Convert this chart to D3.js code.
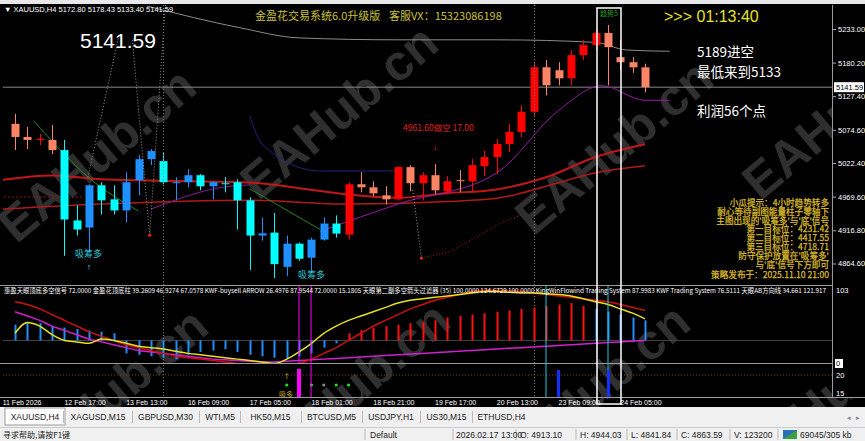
<!DOCTYPE html>
<html>
<head>
<meta charset="utf-8">
<script src="https://cdn.jsdelivr.net/npm/d3@7"></script>
<style>
body { margin: 0; background: #000; overflow: hidden; }
svg { display: block; }
</style>
</head>
<body>
<script>
// XAUUSD H4 bars (index 0 = 12 Feb 01:00)
var opens  = [5084.0,5063.4,5059.4,5058.7,5042.8,4932.2,4921.1,4987.5,4965.4,4948.0,4995.4,5028.6,5025.5,4991.5,4992.3,5003.3,4985.9,4990.7,4992.3,4963.8,4908.5,4913.10,4859.4,4895.8,4873.7,4902.1,4927.4,4910.0,4989.1,4984.3,4971.7,4965.4,5016.0,4990.7,5003.3,4978.0,4995.4,4993.8,5017.5,5031.8,5052.3,5071.3,5102.9,5172.9,5168.2,5155.5,5191.9,5207.7,5226.7,5188.7,5180.8,5172.80];
var highs  = [5099.8,5079.2,5068.1,5082.4,5058.7,4955.9,4989.1,4992.3,4987.5,5008.1,5034.9,5044.4,5039.7,5000.2,5012.8,5004.9,4993.8,5000.2,4997.0,4968.5,4936.9,4944.03,4908.5,4897.4,4905.3,4936.9,4940.1,4992.3,5008.1,4993.8,4985.9,5017.5,5019.1,5008.1,5020.7,5001.7,5011.2,5028.6,5041.3,5060.2,5084.0,5112.8,5180.8,5184.0,5180.8,5199.8,5215.6,5234.6,5239.3,5215.6,5188.7,5178.43];
var lows   = [5042.8,5044.4,5050.8,5036.5,4876.8,4908.5,4881.6,4941.7,4941.7,4929.0,4971.7,5019.1,4989.1,4963.8,4984.3,4979.6,4965.4,4976.4,4918.0,4854.7,4900.5,4841.84,4845.2,4868.9,4849.9,4900.5,4905.3,4902.1,4976.4,4970.1,4957.5,4963.8,4978.0,4963.8,4973.3,4973.3,4976.4,4976.4,5001.7,5004.9,5039.7,5063.4,5095.0,5128.7,5144.5,5144.5,5184.0,5199.8,5144.5,5168.2,5164.0,5133.40];
var closes = [5063.4,5058.7,5060.2,5042.8,4933.8,4918.0,4987.5,4963.8,4948.0,4992.3,5028.6,5041.3,4992.3,4992.3,5003.3,4985.9,4992.3,4989.9,4963.8,4908.5,4912.0,4863.59,4895.8,4872.1,4902.1,4927.4,4911.6,4989.1,4984.3,4974.8,4965.4,5016.0,4990.7,5003.3,4979.6,4993.8,4994.6,5019.1,5031.8,5052.3,5071.3,5102.9,5172.9,5144.5,5155.5,5191.9,5207.7,5226.7,5204.5,5180.8,5172.8,5141.59];
// colour scheme given by the trend filter: u = red / salmon, d = blue / cyan
var trend = ["u","u","u","u","d","d","d","d","d","d","d","d","d","d","d","d","d","d","d","d","d","d","d","d","d","d","d","u","u","u","u","u","u","u","u","u","u","u","u","u","u","u","u","u","u","u","u","u","u","u","u","u"];

// moving averages and bands: [bar index, price]
var maSlow    = [[-1,4996],[3,5003],[7,4997],[11,4995],[19,4992],[23,4983],[27,4973],[31,4968],[35,4975],[39,4981],[43,5000],[47,5032],[51,5052]];
var maMid     = [[-1,4950],[7,4958],[19,4964],[27,4958],[35,4962],[39,4967],[43,4986],[47,5007],[51,5018]];
var maGreen1  = [[1.5,5089],[6,4999],[10,4947]];
var maGreen2  = [[19,4982],[24.7,4918]];
var maPurple  = [[11,4950],[17.4,4986],[19,4988]];
var maPurple2 = [[24.7,4915],[31,4958],[39,5007],[44,5105],[47.5,5144],[51,5121],[53,5121]];
var maNavy    = [[19,5097],[20,5052],[24.7,5010],[31,5010]];
var bandTop   = [[10.7,5269],[18.2,5235],[23,5219],[31,5216],[39,5216],[47,5212],[49.5,5200],[53,5198]];
var zigA      = [[5.9,5000],[8.4,5222]];
var zigB      = [[9.5,5216],[10.9,4909],[12.2,5280]];
var zigC      = [[32.2,4980],[32.9,4873]];
var zigRed    = [[32.9,4873],[35.2,4883],[37.9,4912],[39.3,4928],[41,4941]];
var dotLevel  = [[-1.2,4969],[5.5,4969]];

var priceTicks = [5233.00, 5180.20, 5127.40, 5074.60, 5022.40, 4969.60, 4916.80, 4864.60];
var timeLabels = ["11 Feb 2026","12 Feb 17:00","13 Feb 13:00","16 Feb 09:00","17 Feb 05:00","18 Feb 01:00","18 Feb 21:00","19 Feb 17:00","20 Feb 13:00","23 Feb 09:00","24 Feb 05:00"];
var timeIdx = [-1, 4, 9, 14, 19, 24, 29, 34, 39, 44, 49];

// oscillator sub window (own units, zero line at 30)
var histo     = [52,55,54,50,48,46,44,42,40,12,10,8,6,4,10,14,16,18,14,10,8,6,4,8,12,20,26,40,44,48,50,52,54,56,58,62,64,66,68,70,72,74,76,78,80,82,78,74,70,66,62,58];
var yellowLn  = [40,55,50,38,30,28,26,32,30,26,22,20,18,15,12,10,8,6,4,2,0,-2,4,14,26,40,50,58,64,70,76,82,86,88,90,92,94,96,98,98,97,96,96,95,94,92,88,84,80,74,68,60];
var magentaLn = [70,64,58,50,44,38,32,28,24,20,16,14,12,10,8,6,4,3,2,1,0,0,1,2,3,4,5,6,7,8,9,10,11,12,13,14,15,16,17,18,19,20,21,22,23,24,25,26,27,28,29,30];
var redLn     = [84,80,74,66,58,50,42,36,30,24,20,16,12,8,6,4,2,0,-2,-4,-6,-8,-6,-2,4,12,20,30,40,50,58,66,74,80,86,90,94,98,100,100,99,98,96,94,92,90,88,86,84,80,76,72];
var dotsIdx   = [22, 23, 24, 25, 26, 27];

var tabs = ["XAUUSD,H4","XAGUSD,M15","GBPUSD,M30","WTI,M5","HK50,M15","BTCUSD,M5","USDJPY,H1","US30,M15","ETHUSD,H4"];
var infoLines = ["小瓜提示：4小时趋势转多","耐心等待副图能量柱子零轴下","主图出现的'吸筹多'与'底'信号","第一目标位：4231.42","第二目标位：4417.55","第三目标位：4718.71","防守保护放置在'吸筹多'","与'底'信号下方即可","策略发布于：2025.11.10 21:00"];

var W = 865, H = 441;
var plotL = 3, plotR = 832, mainTop = 5, mainBot = 285, oscTop = 286, oscBot = 363, sub2Top = 363, sub2Bot = 397;
var cjk = "'Noto Sans CJK SC', sans-serif";
var latin = "'Liberation Sans', 'DejaVu Sans', sans-serif";

var svg = d3.select("body").append("svg").attr("width", W).attr("height", H);
svg.append("rect").attr("width", W).attr("height", H).attr("fill", "#000");

var x = d3.scaleLinear().domain([0, 51]).range([15, 645]);
var y = d3.scaleLinear().domain([4864.6, 5233]).range([263.5, 29]);
var yo = d3.scaleLinear().domain([0, 103]).range([362, 288]);

var defs = svg.append("defs");
defs.append("clipPath").attr("id", "mainClip")
    .append("rect").attr("x", plotL).attr("y", mainTop).attr("width", plotR - plotL).attr("height", mainBot - mainTop);
defs.append("clipPath").attr("id", "oscClip")
    .append("rect").attr("x", plotL).attr("y", oscTop).attr("width", plotR - plotL).attr("height", oscBot - oscTop);

// top toolbar remnant
svg.append("rect").attr("x", 0).attr("y", 0).attr("width", W).attr("height", 4).attr("fill", "#e8e8e8");

// watermarks
var wm = svg.append("g");
[[108,168],[350,125],[625,160],[852,125],[120,408],[362,402],[602,404],[846,404]].forEach(function (p) {
    wm.append("text").attr("transform", "translate(" + p[0] + "," + p[1] + ") rotate(-40)")
        .attr("text-anchor", "middle").attr("font-family", latin).attr("font-weight", "bold")
        .attr("font-size", 50).attr("fill", "#2f2f2f").text("EAHub.cn");
});

var main = svg.append("g").attr("clip-path", "url(#mainClip)");

// period separators
[163, 534].forEach(function (sx) {
    svg.append("line").attr("x1", sx + 0.5).attr("x2", sx + 0.5).attr("y1", mainTop).attr("y2", sub2Bot)
        .attr("stroke", "#777").attr("stroke-dasharray", "1,2");
});

// current price line
main.append("line").attr("x1", plotL).attr("x2", plotR).attr("y1", y(5141.59)).attr("y2", y(5141.59))
    .attr("stroke", "#888").attr("stroke-width", 1);

var line = d3.line().x(function (d) { return x(d[0]); }).y(function (d) { return y(d[1]); }).curve(d3.curveMonotoneX);
var straight = d3.line().x(function (d) { return x(d[0]); }).y(function (d) { return y(d[1]); });
function drawLine(data, color, w, dash, gen) {
    main.append("path").attr("d", (gen || line)(data)).attr("fill", "none").attr("stroke", color)
        .attr("stroke-width", w).attr("stroke-dasharray", dash || null);
}
drawLine(dotLevel, "#8a1a1a", 1, "2,2");
drawLine(bandTop, "#8c8c8c", 1);
drawLine(maSlow, "#c01818", 2);
drawLine(maMid, "#b01a1a", 1.5);
drawLine(maNavy, "#22227a", 1);
drawLine(maGreen1, "#1e8a1e", 1);
drawLine(maGreen2, "#1e8a1e", 1);
drawLine(maPurple, "#8a1a9a", 1);
drawLine(maPurple2, "#9a1aa8", 1);
drawLine(zigA, "#9a9a9a", 1, "1,2", straight);
drawLine(zigB, "#9a9a9a", 1, "1,2", straight);
drawLine(zigC, "#9a9a9a", 1, "1,2", straight);
drawLine(zigRed, "#b01818", 1, "1,2", straight);
[zigB[1], zigRed[0]].forEach(function (p) {
    main.append("circle").attr("cx", x(p[0])).attr("cy", y(p[1])).attr("r", 1.5).attr("fill", "#ff2020");
});

// candles
var bw = 8;
function candleColor(i) {
    var up = closes[i] >= opens[i];
    if (trend[i] === "u") return up ? "#ff0000" : "#fa8465";
    return up ? "#1e90ff" : "#00ffff";
}
var candles = main.selectAll("g.candle").data(d3.range(opens.length)).enter().append("g").attr("class", "candle");
candles.append("line")
    .attr("x1", function (i) { return Math.round(x(i)) + 0.5; })
    .attr("x2", function (i) { return Math.round(x(i)) + 0.5; })
    .attr("y1", function (i) { return y(highs[i]); })
    .attr("y2", function (i) { return y(lows[i]); })
    .attr("stroke", candleColor).attr("stroke-width", 1);
candles.append("rect")
    .attr("x", function (i) { return Math.round(x(i)) - bw / 2 + 0.5; })
    .attr("y", function (i) { return y(Math.max(opens[i], closes[i])); })
    .attr("width", bw)
    .attr("height", function (i) { return Math.max(1, Math.abs(y(opens[i]) - y(closes[i]))); })
    .attr("fill", candleColor);

// signal texts on main chart
svg.append("text").attr("x", 75).attr("y", 257).attr("font-family", cjk).attr("font-size", 9)
    .attr("fill", "#30c8d8").text("吸筹多");
svg.append("text").attr("x", x(6)).attr("y", 270).attr("text-anchor", "middle").attr("font-size", 9)
    .attr("fill", "#30e0f0").text("↑");
svg.append("text").attr("x", 298).attr("y", 278).attr("font-family", cjk).attr("font-size", 9)
    .attr("fill", "#30c8d8").text("吸筹多");
svg.append("text").attr("x", 403).attr("y", 131).attr("font-family", cjk).attr("font-size", 8.5)
    .attr("fill", "#e02020").text("4961.60做空 17.00");
svg.append("text").attr("x", x(34)).attr("y", 150).attr("text-anchor", "middle").attr("font-size", 9)
    .attr("fill", "#ff2020").text("↓");

// header texts
svg.append("text").attr("x", 4).attr("y", 12).attr("font-family", latin).attr("font-size", 7.5)
    .attr("fill", "#fff").text("▼ XAUUSD,H4  5172.80 5178.43 5133.40 5141.59");
svg.append("text").attr("x", 80).attr("y", 48).attr("font-family", latin).attr("font-size", 21)
    .attr("fill", "#fff").text("5141.59");
svg.append("text").attr("x", 255).attr("y", 20).attr("font-family", cjk).attr("font-size", 11)
    .attr("fill", "#c8c23a").text("金盈花交易系统6.0升级版");
svg.append("text").attr("x", 389).attr("y", 20).attr("font-family", cjk).attr("font-size", 11)
    .attr("fill", "#c8c23a").text("客服VX：15323086198");
svg.append("text").attr("x", 664).attr("y", 22).attr("font-family", latin).attr("font-size", 16)
    .attr("fill", "#e6e22a").text(">>> 01:13:40");
svg.append("text").attr("x", 697).attr("y", 57).attr("font-family", cjk).attr("font-size", 13.5)
    .attr("fill", "#fff").text("5189进空");
svg.append("text").attr("x", 697).attr("y", 77).attr("font-family", cjk).attr("font-size", 13.5)
    .attr("fill", "#fff").text("最低来到5133");
svg.append("text").attr("x", 697).attr("y", 116).attr("font-family", cjk).attr("font-size", 13.5)
    .attr("fill", "#fff").text("利润56个点");

// info panel
svg.append("g").selectAll("text").data(infoLines).enter().append("text")
    .attr("x", 829).attr("y", function (d, i) { return i < 8 ? 206 + i * 8.8 : 278; })
    .attr("text-anchor", "end").attr("font-family", cjk).attr("font-size", 8.6)
    .attr("fill", "#dcbc2c").attr("stroke", "#dcbc2c").attr("stroke-width", 0.25)
    .text(function (d) { return d; });

// oscillator sub window
svg.append("line").attr("x1", 0).attr("x2", W).attr("y1", mainBot + 0.5).attr("y2", mainBot + 0.5).attr("stroke", "#9a9a9a");
var osc = svg.append("g").attr("clip-path", "url(#oscClip)");
osc.append("line").attr("x1", plotL).attr("x2", plotR).attr("y1", yo(30)).attr("y2", yo(30)).attr("stroke", "#444");
osc.selectAll("line.h").data(histo).enter().append("line").attr("class", "h")
    .attr("x1", function (d, i) { return Math.round(x(i)) + 0.5; })
    .attr("x2", function (d, i) { return Math.round(x(i)) + 0.5; })
    .attr("y1", yo(30)).attr("y2", function (d) { return yo(d); })
    .attr("stroke", function (d, i) { return i >= 27 && i < 47 ? "#ff1010" : "#1e90ff"; })
    .attr("stroke-width", 2);
var oline = d3.line().x(function (d, i) { return x(i); }).y(function (d) { return yo(d); }).curve(d3.curveMonotoneX);
osc.append("path").attr("d", oline(magentaLn)).attr("fill", "none").attr("stroke", "#d020d0").attr("stroke-width", 1.5);
osc.append("path").attr("d", oline(redLn)).attr("fill", "none").attr("stroke", "#d01010").attr("stroke-width", 1.5);
osc.append("path").attr("d", oline(yellowLn)).attr("fill", "none").attr("stroke", "#e8e020").attr("stroke-width", 1.5);
[[299, "#ff00ff"], [311, "#ff00ff"], [546, "#20c8d8"], [608, "#20c8d8"]].forEach(function (v) {
    osc.append("line").attr("x1", v[0]).attr("x2", v[0]).attr("y1", oscTop).attr("y2", oscBot).attr("stroke", v[1]);
});

svg.append("text").attr("x", 4).attr("y", 293).attr("font-family", cjk).attr("font-size", 6.6)
    .attr("fill", "#fff").attr("textLength", 822).attr("lengthAdjust", "spacingAndGlyphs")
    .text("惠盈天眼顶底多空信号 72.0000  金盈花顶底柱 39.2609 46.9274 67.0578  KWF-buysell ARROW 26.4976 87.9544 72.0000 15.1805  天眼第二副多空箭头过滤器 (35) 100.0000 124.6729 100.0000  KingWinFlowind Trading System 87.9983  KWF Trading System 76.5111  天眼AB方向线 34.661 121.917");

// second sub window
svg.append("line").attr("x1", 0).attr("x2", W).attr("y1", sub2Top + 0.5).attr("y2", sub2Top + 0.5).attr("stroke", "#9a9a9a");
svg.append("line").attr("x1", plotL).attr("x2", plotR).attr("y1", 375).attr("y2", 375).attr("stroke", "#8a3a1a").attr("stroke-dasharray", "1,2");
svg.append("g").selectAll("circle").data(dotsIdx).enter().append("circle")
    .attr("cx", function (d) { return x(d); }).attr("cy", 385).attr("r", 1.6)
    .attr("fill", function (d) { return d === 25 ? "#888" : "#20e020"; });
svg.append("text").attr("x", x(22)).attr("y", 379).attr("text-anchor", "middle").attr("font-size", 10).attr("font-weight", "bold")
    .attr("fill", "#f0e020").text("↑");
svg.append("rect").attr("x", 297).attr("y", 369).attr("width", 4).attr("height", sub2Bot - 369).attr("fill", "#ff00ff");
svg.append("line").attr("x1", 311).attr("x2", 311).attr("y1", sub2Top).attr("y2", sub2Bot).attr("stroke", "#ff00ff");
svg.append("text").attr("x", 279).attr("y", 397).attr("font-family", cjk).attr("font-size", 7).attr("fill", "#c8b020").text("吸多");
svg.append("line").attr("x1", 546).attr("x2", 546).attr("y1", sub2Top).attr("y2", sub2Bot).attr("stroke", "#20c8d8");
svg.append("rect").attr("x", 557).attr("y", 370).attr("width", 3).attr("height", sub2Bot - 370).attr("fill", "#1030ff");
svg.append("line").attr("x1", 608).attr("x2", 608).attr("y1", sub2Top).attr("y2", sub2Bot).attr("stroke", "#20c8d8");
svg.append("rect").attr("x", 607).attr("y", 370).attr("width", 3).attr("height", sub2Bot - 370).attr("fill", "#1030ff");
svg.append("line").attr("x1", 0).attr("x2", W).attr("y1", sub2Bot + 0.5).attr("y2", sub2Bot + 0.5).attr("stroke", "#9a9a9a");

// white box around the signal bar
svg.append("rect").attr("x", 597).attr("y", 8).attr("width", 24).attr("height", 396)
    .attr("fill", "none").attr("stroke", "#fff").attr("stroke-width", 1.5);
svg.append("text").attr("x", 609).attr("y", 16).attr("text-anchor", "middle").attr("font-family", cjk)
    .attr("font-size", 7).attr("fill", "#20a020").text("趋势5");

// price axis
svg.append("rect").attr("x", plotR).attr("y", mainTop).attr("width", W - plotR).attr("height", sub2Bot - mainTop).attr("fill", "#000");
svg.append("line").attr("x1", plotR + 0.5).attr("x2", plotR + 0.5).attr("y1", mainTop).attr("y2", sub2Bot).attr("stroke", "#9a9a9a");
var yAxis = d3.axisRight(y).tickValues(priceTicks).tickSize(3).tickFormat(d3.format(".2f"));
var ya = svg.append("g").attr("transform", "translate(" + (plotR + 1) + ",0)").call(yAxis);
ya.select(".domain").remove();
ya.selectAll("line").attr("stroke", "#aaa");
ya.selectAll("text").attr("fill", "#fff").attr("font-family", latin).attr("font-size", 7.5).attr("x", 5);
svg.append("rect").attr("x", plotR + 2).attr("y", y(5141.59) - 5).attr("width", 30).attr("height", 10).attr("fill", "#fff");
svg.append("text").attr("x", plotR + 4).attr("y", y(5141.59) + 3).attr("font-family", latin).attr("font-size", 7.5)
    .attr("fill", "#000").text("5141.59");
svg.append("text").attr("x", plotR + 4).attr("y", 293).attr("font-family", latin).attr("font-size", 7.5).attr("fill", "#fff").text("103");
svg.append("rect").attr("x", plotR + 3).attr("y", 359).attr("width", 8).attr("height", 9).attr("fill", "#fff");
svg.append("text").attr("x", plotR + 4).attr("y", 366).attr("font-family", latin).attr("font-size", 7.5).attr("fill", "#000").text("0");
svg.append("text").attr("x", plotR + 4).attr("y", 378).attr("font-family", latin).attr("font-size", 7.5).attr("fill", "#fff").text("20");
svg.append("text").attr("x", plotR + 4).attr("y", 396).attr("font-family", latin).attr("font-size", 7.5).attr("fill", "#fff").text("15");

// time axis
svg.append("g").selectAll("text").data(timeLabels).enter().append("text")
    .attr("x", function (d, i) { return x(timeIdx[i]); }).attr("y", 405)
    .attr("font-family", latin).attr("font-size", 7).attr("fill", "#fff").text(function (d) { return d; });

// tab bar
var tabBar = svg.append("g");
tabBar.append("rect").attr("x", 0).attr("y", 407).attr("width", W).attr("height", 20).attr("fill", "#f0f0f0");
var tabX = [5, 66, 135, 202, 243, 304, 365, 423, 475];
var tabW = [60, 64, 61, 36, 55, 55, 52, 47, 53];
tabs.forEach(function (t, i) {
    if (i === 0) {
        tabBar.append("rect").attr("x", tabX[i]).attr("y", 408).attr("width", tabW[i]).attr("height", 17)
            .attr("fill", "#fff").attr("stroke", "#999");
    } else {
        tabBar.append("line").attr("x1", tabX[i] - 2.5).attr("x2", tabX[i] - 2.5).attr("y1", 411).attr("y2", 423).attr("stroke", "#bbb");
    }
    tabBar.append("text").attr("x", tabX[i] + tabW[i] / 2).attr("y", 420).attr("text-anchor", "middle")
        .attr("font-family", latin).attr("font-size", 8.5).attr("fill", "#222").text(t);
});
tabBar.append("text").attr("x", 847).attr("y", 420).attr("font-size", 7).attr("fill", "#888").text("◂");
tabBar.append("text").attr("x", 856).attr("y", 420).attr("font-size", 7).attr("fill", "#888").text("▸");

// status bar
var sb = svg.append("g");
sb.append("rect").attr("x", 0).attr("y", 427).attr("width", W).attr("height", 14).attr("fill", "#f0f0f0");
sb.append("line").attr("x1", 0).attr("x2", W).attr("y1", 427.5).attr("y2", 427.5).attr("stroke", "#ccc");
sb.append("text").attr("x", 3).attr("y", 438).attr("font-family", cjk).attr("font-size", 8).attr("fill", "#222").text("寻求帮助,请按F1键");
var sbItems = [["Default", 370], ["2026.02.17 13:00", 456], ["O: 4913.10", 520], ["H: 4944.03", 580], ["L: 4841.84", 631], ["C: 4863.59", 681], ["V: 123200", 734], ["69045/305 kb", 800]];
[365, 453, 516, 576, 627, 677, 730, 778].forEach(function (sx) {
    sb.append("line").attr("x1", sx).attr("x2", sx).attr("y1", 429).attr("y2", 440).attr("stroke", "#bbb");
});
sbItems.forEach(function (s) {
    sb.append("text").attr("x", s[1]).attr("y", 438).attr("font-family", latin).attr("font-size", 8.5).attr("fill", "#222").text(s[0]);
});
sb.append("rect").attr("x", 783).attr("y", 430).attr("width", 14).attr("height", 9).attr("fill", "#2a70b8");
sb.append("path").attr("d", "M783,439 L797,430 L797,439 Z").attr("fill", "#3aa040");
</script>
</body>
</html>
